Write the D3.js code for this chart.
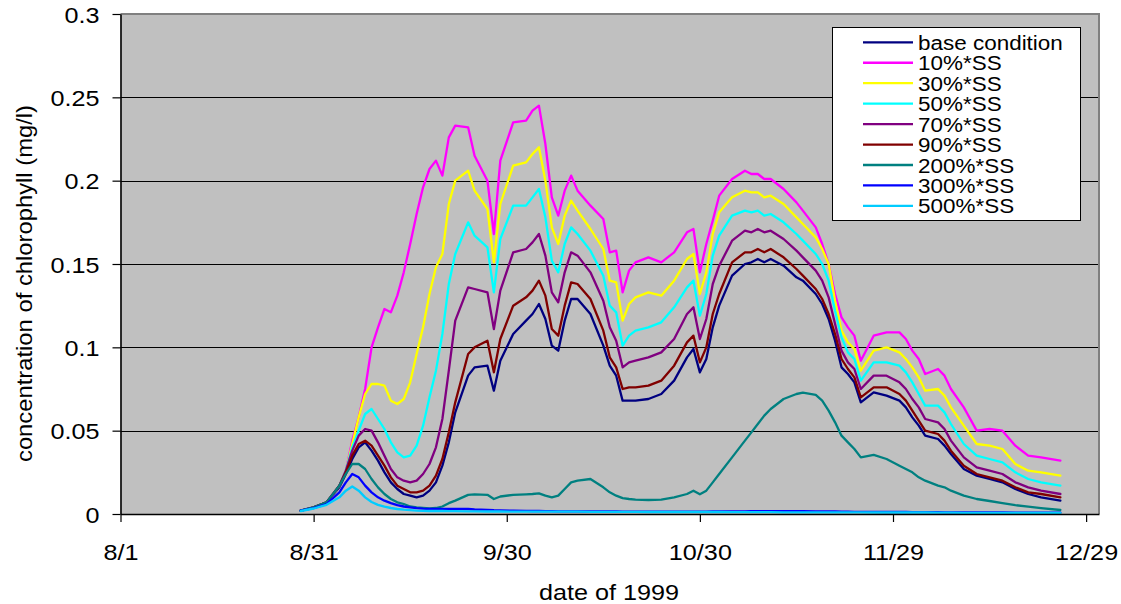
<!DOCTYPE html>
<html>
<head>
<meta charset="utf-8">
<script src="https://cdn.jsdelivr.net/npm/d3@7"></script>
<style>
  html, body { margin: 0; padding: 0; background: #ffffff; }
  svg { display: block; font-family: "Liberation Sans", Arial, sans-serif; }
</style>
</head>
<body>
<svg id="chart" width="1121" height="604"></svg>
<script>
// Simulated chlorophyll concentration (mg/l), autumn 1999.
// Sample days are counted from 8/1/1999.
const days = [
  28, 30, 32, 34, 35,
  36, 37, 38, 39, 40, 41, 42, 43, 44, 45, 46, 47, 48, 49, 50, 51, 52,
  54, 55, 57, 58, 59,
  61, 63, 64, 65, 66, 67, 68, 69, 70, 71,
  73, 75, 76, 77, 78, 79, 80,
  82, 84, 86, 88, 89, 90, 91, 92, 93,
  95, 97, 98, 99, 100, 101,
  103, 105, 106, 108, 109, 110, 111, 112, 113, 114, 115,
  117, 119, 121, 122, 123, 124, 125,
  127, 128, 129, 131, 133, 135, 137, 139, 141, 143, 146
];

const baseCondition = [
  0.002, 0.004, 0.007, 0.016, 0.024,
  0.033, 0.040, 0.043, 0.038, 0.032, 0.025, 0.019, 0.015, 0.012, 0.011, 0.010, 0.011, 0.014, 0.019, 0.029, 0.043, 0.061,
  0.083, 0.088, 0.089, 0.074, 0.092,
  0.108, 0.116, 0.120, 0.126, 0.117, 0.101, 0.098, 0.116, 0.129, 0.129,
  0.120, 0.101, 0.089, 0.083, 0.068, 0.068, 0.068,
  0.069, 0.072, 0.080, 0.094, 0.099, 0.085, 0.093, 0.112, 0.125,
  0.143, 0.150, 0.151, 0.153, 0.151, 0.153,
  0.149, 0.142, 0.140, 0.132, 0.126, 0.117, 0.104, 0.088, 0.084, 0.079, 0.067,
  0.073, 0.071, 0.068, 0.064, 0.058, 0.053, 0.047,
  0.045, 0.041, 0.036, 0.027, 0.023, 0.021, 0.019, 0.015, 0.012, 0.010, 0.008
];

const ss10 = [
  0.002, 0.004, 0.007, 0.017, 0.026,
  0.044, 0.058, 0.075, 0.100, 0.112, 0.123, 0.121, 0.131, 0.145, 0.162, 0.180, 0.196, 0.207, 0.212, 0.203, 0.226, 0.233,
  0.232, 0.215, 0.200, 0.168, 0.212,
  0.235, 0.236, 0.242, 0.245, 0.222, 0.190, 0.179, 0.194, 0.203, 0.194,
  0.185, 0.177, 0.157, 0.158, 0.133, 0.146, 0.151,
  0.154, 0.151, 0.157, 0.169, 0.171, 0.145, 0.162, 0.176, 0.191,
  0.201, 0.206, 0.204, 0.204, 0.201, 0.201,
  0.195, 0.187, 0.182, 0.172, 0.162, 0.150, 0.132, 0.118, 0.112, 0.107, 0.092,
  0.107, 0.109, 0.109, 0.105, 0.098, 0.093, 0.084,
  0.087, 0.083, 0.075, 0.064, 0.050, 0.051, 0.050, 0.041, 0.035, 0.034, 0.032
];

const ss30 = [
  0.002, 0.004, 0.007, 0.017, 0.026,
  0.042, 0.058, 0.072, 0.078, 0.078, 0.077, 0.068, 0.066, 0.069, 0.079, 0.096, 0.112, 0.132, 0.148, 0.156, 0.186, 0.200,
  0.206, 0.194, 0.183, 0.151, 0.186,
  0.209, 0.211, 0.216, 0.220, 0.200, 0.172, 0.162, 0.179, 0.188, 0.182,
  0.171, 0.159, 0.140, 0.139, 0.116, 0.126, 0.130,
  0.133, 0.131, 0.140, 0.153, 0.156, 0.132, 0.145, 0.168, 0.181,
  0.190, 0.194, 0.193, 0.193, 0.190, 0.191,
  0.186, 0.178, 0.174, 0.166, 0.159, 0.150, 0.128, 0.110, 0.103, 0.099, 0.086,
  0.098, 0.100, 0.097, 0.093, 0.088, 0.082, 0.074,
  0.075, 0.071, 0.064, 0.053, 0.042, 0.041, 0.039, 0.030, 0.026, 0.025, 0.023
];

const ss50 = [
  0.002, 0.004, 0.007, 0.017, 0.026,
  0.040, 0.050, 0.060, 0.063, 0.057, 0.051, 0.043, 0.037, 0.034, 0.035, 0.041, 0.053, 0.070, 0.086, 0.108, 0.138, 0.156,
  0.175, 0.167, 0.160, 0.133, 0.165,
  0.185, 0.185, 0.190, 0.195, 0.178, 0.152, 0.145, 0.162, 0.172, 0.168,
  0.158, 0.143, 0.125, 0.121, 0.101, 0.107, 0.110,
  0.112, 0.115, 0.124, 0.136, 0.140, 0.119, 0.132, 0.155, 0.167,
  0.179, 0.182, 0.181, 0.182, 0.179, 0.180,
  0.175, 0.168, 0.164, 0.156, 0.150, 0.140, 0.122, 0.106, 0.097, 0.093, 0.080,
  0.091, 0.091, 0.089, 0.085, 0.079, 0.072, 0.065,
  0.065, 0.061, 0.054, 0.042, 0.035, 0.033, 0.031, 0.025, 0.021, 0.019, 0.017
];

const ss70 = [
  0.002, 0.004, 0.007, 0.017, 0.026,
  0.038, 0.047, 0.051, 0.050, 0.043, 0.035, 0.027, 0.022, 0.020, 0.019, 0.020, 0.024, 0.030, 0.040, 0.057, 0.086, 0.116,
  0.136, 0.135, 0.133, 0.111, 0.134,
  0.157, 0.159, 0.163, 0.168, 0.155, 0.133, 0.127, 0.145, 0.157, 0.155,
  0.145, 0.128, 0.112, 0.104, 0.088, 0.091, 0.092,
  0.094, 0.097, 0.105, 0.120, 0.124, 0.105, 0.117, 0.138, 0.149,
  0.164, 0.170, 0.169, 0.171, 0.169, 0.170,
  0.165, 0.158, 0.154, 0.146, 0.140, 0.130, 0.114, 0.098, 0.091, 0.087, 0.075,
  0.083, 0.083, 0.079, 0.075, 0.069, 0.064, 0.057,
  0.055, 0.051, 0.044, 0.034, 0.028, 0.026, 0.024, 0.019, 0.016, 0.014, 0.012
];

const ss90 = [
  0.002, 0.004, 0.007, 0.017, 0.025,
  0.035, 0.042, 0.044, 0.041, 0.035, 0.029, 0.022, 0.017, 0.015, 0.013, 0.013, 0.014, 0.017, 0.023, 0.033, 0.049, 0.067,
  0.096, 0.100, 0.104, 0.085, 0.105,
  0.125, 0.130, 0.134, 0.140, 0.131, 0.111, 0.107, 0.125, 0.139, 0.138,
  0.129, 0.110, 0.094, 0.088, 0.075, 0.076, 0.076,
  0.077, 0.080, 0.089, 0.103, 0.107, 0.091, 0.100, 0.120, 0.132,
  0.151, 0.157, 0.157, 0.159, 0.157, 0.159,
  0.154, 0.147, 0.143, 0.135, 0.129, 0.120, 0.108, 0.093, 0.087, 0.082, 0.070,
  0.076, 0.076, 0.072, 0.068, 0.062, 0.056, 0.050,
  0.048, 0.044, 0.038, 0.029, 0.024, 0.022, 0.020, 0.016, 0.013, 0.012, 0.010
];

const ss200 = [
  0.002, 0.004, 0.007, 0.017, 0.024,
  0.030, 0.030, 0.027, 0.021, 0.016, 0.012, 0.009, 0.007, 0.006, 0.0045, 0.004, 0.0037, 0.0034, 0.0036, 0.0045, 0.0065, 0.008,
  0.0115, 0.0118, 0.0115, 0.009, 0.0105,
  0.0115, 0.0118, 0.012, 0.0124, 0.011, 0.010, 0.011, 0.015, 0.019, 0.020,
  0.021, 0.016, 0.013, 0.011, 0.0095, 0.009, 0.0086,
  0.0084, 0.0086, 0.010, 0.012, 0.014, 0.0118, 0.014, 0.019, 0.024,
  0.034, 0.044, 0.049, 0.054, 0.059, 0.063,
  0.069, 0.072, 0.0728, 0.0715, 0.068, 0.062, 0.055, 0.047, 0.043, 0.039, 0.034,
  0.0355, 0.033, 0.029, 0.027, 0.025, 0.022, 0.020,
  0.017, 0.016, 0.014, 0.011, 0.009, 0.0078, 0.0065, 0.0053, 0.0044, 0.0035, 0.0024
];

const ss300 = [
  0.002, 0.0035, 0.006, 0.013, 0.019,
  0.024, 0.022, 0.017, 0.013, 0.010, 0.008, 0.0065, 0.0053, 0.0045, 0.004, 0.0035, 0.0032, 0.003, 0.003, 0.003, 0.0031, 0.0031,
  0.003, 0.0027, 0.0025, 0.0023, 0.0022,
  0.002, 0.0019, 0.0018, 0.0018, 0.0017, 0.0017, 0.0016, 0.0016, 0.0016, 0.0016,
  0.0015, 0.0015, 0.0015, 0.0015, 0.0014, 0.0014, 0.0014,
  0.0014, 0.0014, 0.0014, 0.0014, 0.0014, 0.0014, 0.0014, 0.0015, 0.0015,
  0.0016, 0.0016, 0.0017, 0.0017, 0.0017, 0.0017,
  0.0017, 0.0017, 0.0017, 0.0016, 0.0016, 0.0015, 0.0015, 0.0014, 0.0014, 0.0013, 0.0013,
  0.0013, 0.0012, 0.0012, 0.0012, 0.0011, 0.0011, 0.0011,
  0.0011, 0.0010, 0.0010, 0.0010, 0.0009, 0.0009, 0.0009, 0.0008, 0.0008, 0.0008, 0.0008
];

const ss500 = [
  0.0018, 0.0033, 0.0055, 0.010, 0.014,
  0.0165, 0.014, 0.010, 0.0072, 0.0055, 0.0044, 0.0036, 0.003, 0.0026, 0.0023, 0.002, 0.0019, 0.0018, 0.0018, 0.0018, 0.0017, 0.0017,
  0.0016, 0.0016, 0.0015, 0.0015, 0.0015,
  0.0014, 0.0014, 0.0014, 0.0014, 0.0014, 0.0014, 0.0014, 0.0014, 0.0014, 0.0014,
  0.0013, 0.0013, 0.0013, 0.0013, 0.0013, 0.0013, 0.0013,
  0.0012, 0.0012, 0.0012, 0.0012, 0.0012, 0.0012, 0.0012, 0.0012, 0.0012,
  0.0011, 0.0011, 0.0011, 0.0011, 0.0011, 0.0011,
  0.0010, 0.0010, 0.0010, 0.0010, 0.0010, 0.0010, 0.0010, 0.0010, 0.0010, 0.0010, 0.0010,
  0.0009, 0.0009, 0.0009, 0.0009, 0.0009, 0.0009, 0.0009,
  0.0008, 0.0008, 0.0008, 0.0007, 0.0007, 0.0007, 0.0007, 0.0006, 0.0006, 0.0006, 0.0006
];

const seriesNames = ["base condition", "10%*SS", "30%*SS", "50%*SS", "70%*SS", "90%*SS", "200%*SS", "300%*SS", "500%*SS"];
const seriesValues = [baseCondition, ss10, ss30, ss50, ss70, ss90, ss200, ss300, ss500];
const seriesColors = ["#000080", "#FF00FF", "#FFFF00", "#00FFFF", "#800080", "#800000", "#008080", "#0000FF", "#00CCFF"];

const xTickDays = [0, 30, 60, 90, 120, 150];
const xTickLabels = ["8/1", "8/31", "9/30", "10/30", "11/29", "12/29"];
const yTickValues = [0, 0.05, 0.1, 0.15, 0.2, 0.25, 0.3];
const yTickLabels = ["0", "0.05", "0.1", "0.15", "0.2", "0.25", "0.3"];

const svg = d3.select("#chart");
const plot = { left: 120.5, right: 1099, top: 14, bottom: 514 };
const stretch = 1.12;

const x = d3.scaleLinear().domain([0, 152]).range([plot.left, plot.right]);
const y = d3.scaleLinear().domain([0, 0.3]).range([plot.bottom, plot.top]);

// plot area background
svg.append("rect")
  .attr("x", plot.left).attr("y", plot.top)
  .attr("width", plot.right - plot.left).attr("height", plot.bottom - plot.top)
  .attr("fill", "#C0C0C0");

// horizontal gridlines
svg.append("g")
  .selectAll("line")
  .data(yTickValues.slice(1))
  .join("line")
  .attr("x1", plot.left).attr("x2", plot.right)
  .attr("y1", d => Math.round(y(d)) + 0.5).attr("y2", d => Math.round(y(d)) + 0.5)
  .attr("stroke", "#000").attr("stroke-width", 1);

// top and right frame
svg.append("path")
  .attr("d", `M${plot.left},${plot.top}H${plot.right}V${plot.bottom}`)
  .attr("fill", "none").attr("stroke", "#808080").attr("stroke-width", 2);

// series lines
const line = d3.line()
  .x((d, i) => x(days[i]))
  .y(d => y(d));

svg.append("g")
  .selectAll("path")
  .data(seriesValues)
  .join("path")
  .attr("d", d => line(d))
  .attr("fill", "none")
  .attr("stroke", (d, i) => seriesColors[i])
  .attr("stroke-width", 2.3)
  .attr("stroke-linejoin", "round")
  .attr("stroke-linecap", "round");

// y axis
const yAxis = svg.append("g")
  .attr("transform", `translate(${plot.left},0)`)
  .call(d3.axisLeft(y)
    .tickValues(yTickValues)
    .tickFormat((d, i) => yTickLabels[i])
    .tickSizeInner(8).tickSizeOuter(0));
yAxis.select(".domain").attr("stroke", "#000").attr("stroke-width", 1.6);
yAxis.selectAll(".tick line").attr("stroke", "#000").attr("stroke-width", 1.2);
yAxis.selectAll(".tick text")
  .attr("font-family", "'Liberation Sans', Arial, sans-serif")
  .attr("font-size", 22.5)
  .attr("fill", "#000")
  .attr("x", -21 / stretch)
  .attr("dy", 8.3)
  .attr("transform", `scale(${stretch},1)`);

// x axis
const xAxis = svg.append("g")
  .attr("transform", `translate(0,${plot.bottom})`)
  .call(d3.axisBottom(x)
    .tickValues(xTickDays)
    .tickFormat((d, i) => xTickLabels[i])
    .tickSizeInner(8).tickSizeOuter(0));
xAxis.select(".domain").attr("stroke", "#000").attr("stroke-width", 1.6);
xAxis.selectAll(".tick line").attr("stroke", "#000").attr("stroke-width", 1.2);
xAxis.selectAll(".tick text")
  .attr("font-family", "'Liberation Sans', Arial, sans-serif")
  .attr("font-size", 22.5)
  .attr("fill", "#000")
  .attr("y", 46).attr("dy", 0)
  .attr("transform", `scale(${stretch},1)`);

// axis titles
svg.append("text")
  .attr("transform", `translate(609,600) scale(${stretch},1)`)
  .attr("text-anchor", "middle")
  .attr("font-size", 22.5)
  .text("date of 1999");

svg.append("text")
  .attr("transform", "translate(32,283.5) rotate(-90)")
  .attr("text-anchor", "middle")
  .attr("font-size", 22)
  .attr("textLength", 357)
  .attr("lengthAdjust", "spacingAndGlyphs")
  .text("concentration of chlorophyll (mg/l)");

// legend
const legend = svg.append("g");
legend.append("rect")
  .attr("x", 832.5).attr("y", 27.5)
  .attr("width", 248).attr("height", 193)
  .attr("fill", "#fff").attr("stroke", "#000").attr("stroke-width", 1);

const rowY = i => 42.3 + i * 20.45;
const legendStretch = 1.07;
legend.selectAll("line.key")
  .data(seriesNames)
  .join("line")
  .attr("class", "key")
  .attr("x1", 863).attr("x2", 913)
  .attr("y1", (d, i) => rowY(i)).attr("y2", (d, i) => rowY(i))
  .attr("stroke", (d, i) => seriesColors[i])
  .attr("stroke-width", 2.3);

legend.selectAll("text.label")
  .data(seriesNames)
  .join("text")
  .attr("class", "label")
  .attr("transform", (d, i) => `translate(918,${rowY(i) + 7.5}) scale(${legendStretch},1)`)
  .attr("font-size", 21)
  .attr("fill", "#000")
  .text(d => d);
</script>
</body>
</html>
